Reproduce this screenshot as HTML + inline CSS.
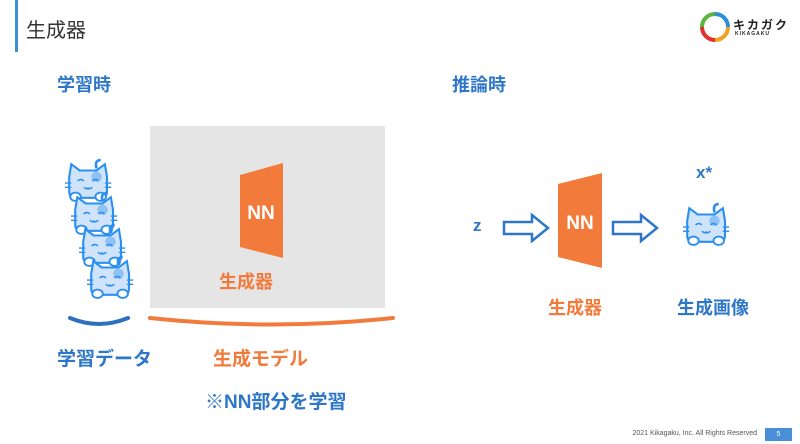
<!DOCTYPE html>
<html><head><meta charset="utf-8"><style>
body{margin:0;width:800px;height:444px;background:#fff;position:relative;overflow:hidden;font-family:"Liberation Sans","Noto Sans CJK JP",sans-serif}
.t{position:absolute;white-space:nowrap;font-weight:bold}
.b{color:#2e77c8}.o{color:#f27b3b}
</style></head><body>
<div style="position:absolute;left:15px;top:0;width:3px;height:52px;background:#3b8fd6"></div>
<div class="t" style="left:26px;top:14px;font-size:20px;font-weight:normal;color:#333">生成器</div>
<svg style="position:absolute;left:700px;top:12px" width="30" height="30" viewBox="0 0 30 30">
<path d="M15 2 A13 13 0 0 1 28 15" stroke="#2b8fd8" stroke-width="4" fill="none"/>
<path d="M28 15 A13 13 0 0 1 15 28" stroke="#f2a020" stroke-width="4" fill="none"/>
<path d="M15 28 A13 13 0 0 1 2 15" stroke="#e03030" stroke-width="4" fill="none"/>
<path d="M2 15 A13 13 0 0 1 15 2" stroke="#5ab53a" stroke-width="4" fill="none"/></svg>
<div class="t" style="left:733px;top:16px;font-size:12px;color:#222;letter-spacing:2px">キカガク</div>
<div class="t" style="left:735px;top:31px;font-size:5px;color:#222;letter-spacing:1px">KIKAGAKU</div>
<div class="t b" style="left:57px;top:71px;font-size:18px">学習時</div>
<div class="t b" style="left:452px;top:71px;font-size:18px">推論時</div>
<div style="position:absolute;left:150px;top:126px;width:235px;height:182px;background:#e5e5e5"></div>
<svg style="position:absolute;left:0;top:0" width="800" height="444">
<defs><g id="cat">
<path d="M30 8 q-2 -8 4 -8" stroke="#2b8ff0" stroke-width="2.5" fill="none"/>
<path d="M4 16 L6 4 L14 10 L30 10 L38 4 L40 16 L40 30 Q40 36 34 36 L10 36 Q4 36 4 30 Z" fill="#cfe4fb" stroke="#2b8ff0" stroke-width="2"/>
<circle cx="30" cy="16" r="5" fill="#8ec2f5"/>
<path d="M12 20 q3 -3 6 0 M26 20 q3 -3 6 0 M18 26 q4 3 4 0 q0 3 4 0" stroke="#2b8ff0" stroke-width="1.5" fill="none"/>
<path d="M0 22 h6 M0 26 h6 M38 22 h6 M38 26 h6" stroke="#2b8ff0" stroke-width="1.3"/>
<ellipse cx="10" cy="35" rx="5" ry="4" fill="#fff" stroke="#2b8ff0" stroke-width="1.8"/>
<ellipse cx="34" cy="35" rx="5" ry="4" fill="#fff" stroke="#2b8ff0" stroke-width="1.8"/>
</g></defs>
<use href="#cat" transform="translate(65 160) scale(1.05)"/>
<use href="#cat" transform="translate(71 193) scale(1.05)"/>
<use href="#cat" transform="translate(79 225) scale(1.05)"/>
<use href="#cat" transform="translate(87 257) scale(1.05)"/>
<use href="#cat" transform="translate(683 204) scale(1.05)"/>
<polygon points="240,175 283,163 283,258 240,247" fill="#f27b3b"/>
<polygon points="558,184 602,173 602,268 558,257" fill="#f27b3b"/>
<text x="261" y="219" font-size="19" font-weight="bold" fill="#fff" text-anchor="middle" font-family="Liberation Sans">NN</text>
<text x="580" y="229" font-size="19" font-weight="bold" fill="#fff" text-anchor="middle" font-family="Liberation Sans">NN</text>
<path d="M504 222 H532 V215 L548 228 L532 241 V234 H504 Z" fill="#fff" stroke="#2e77c8" stroke-width="2.5"/>
<path d="M613 222 H641 V215 L657 228 L641 241 V234 H613 Z" fill="#fff" stroke="#2e77c8" stroke-width="2.5"/>
<path d="M70 318 Q99 330 128 318" stroke="#2e6fc0" stroke-width="4" fill="none" stroke-linecap="round"/>
<path d="M150 318 Q271 331 393 318" stroke="#f27b3b" stroke-width="4" fill="none" stroke-linecap="round"/>
</svg>
<div class="t b" style="left:473px;top:216px;font-size:17px">z</div>
<div class="t b" style="left:696px;top:163px;font-size:17px">x*</div>
<div class="t o" style="left:219px;top:268px;font-size:18px">生成器</div>
<div class="t o" style="left:548px;top:294px;font-size:18px">生成器</div>
<div class="t b" style="left:677px;top:294px;font-size:18px">生成画像</div>
<div class="t b" style="left:57px;top:344px;font-size:19px">学習データ</div>
<div class="t o" style="left:213px;top:344px;font-size:19px">生成モデル</div>
<div class="t b" style="left:205px;top:387px;font-size:19px">※NN部分を学習</div>
<div style="position:absolute;left:620px;top:430px;width:137px;text-align:right;font-size:7px;color:#555;white-space:nowrap">2021 Kikagaku, Inc. All Rights Reserved</div>
<div style="position:absolute;left:765px;top:428px;width:27px;height:13px;background:#4a90d9;color:#fff;font-size:7px;text-align:center;line-height:13px">5</div>
</body></html>
